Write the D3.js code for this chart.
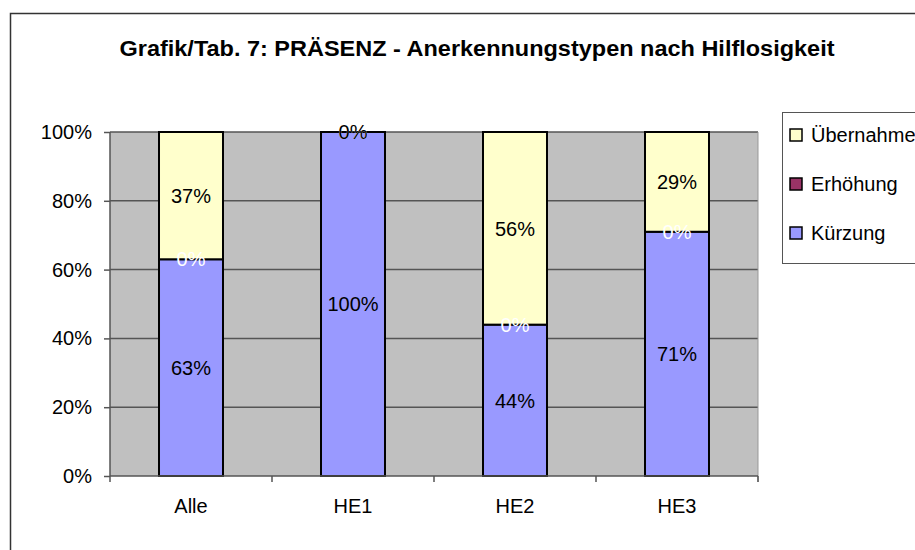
<!DOCTYPE html>
<html>
<head>
<meta charset="utf-8">
<script src="https://cdn.jsdelivr.net/npm/d3@7"></script>
<style>
  body { margin: 0; background: #fff; }
  svg { font-family: "Liberation Sans", Arial, sans-serif; }
</style>
</head>
<body>
<div id="chart"></div>
<script>
// Donnees du graphique
var categories = ["Alle", "HE1", "HE2", "HE3"];
var series = ["Kürzung", "Erhöhung", "Übernahme"];
var kuerzung = [63, 100, 44, 71];
var erhoehung = [0, 0, 0, 0];
var uebernahme = [37, 0, 56, 29];
var yTicks = [0, 20, 40, 60, 80, 100];
var legendOrder = ["Übernahme", "Erhöhung", "Kürzung"];

var colors = {"Kürzung": "#9999ff", "Erhöhung": "#993366", "Übernahme": "#ffffcc"};
var labelColors = {"Kürzung": "#000", "Erhöhung": "#fff", "Übernahme": "#000"};

var W = 915, H = 550;
var plot = {left: 110, right: 758, top: 132, bottom: 476};
var fs = "20px";

var svg = d3.select("#chart").append("svg")
    .attr("width", W)
    .attr("height", H);

// cadre exterieur (coupe a droite et en bas)
svg.append("rect")
    .attr("x", 10.5).attr("y", 13.5)
    .attr("width", W + 20).attr("height", H + 20)
    .attr("fill", "#fff")
    .attr("stroke", "#333")
    .attr("stroke-width", 1.5);

// titre
svg.append("text")
    .attr("x", 477).attr("y", 56)
    .attr("text-anchor", "middle")
    .style("font-size", "22px")
    .style("font-weight", "bold")
    .attr("textLength", 715)
    .attr("lengthAdjust", "spacingAndGlyphs")
    .text("Grafik/Tab. 7: PRÄSENZ - Anerkennungstypen nach Hilflosigkeit");

var x = d3.scaleBand().domain(categories)
    .range([plot.left, plot.right])
    .paddingInner(0.605).paddingOuter(0.3025);

var y = d3.scaleLinear().domain([0, 100]).range([plot.bottom, plot.top]);

// fond gris
svg.append("rect")
    .attr("x", plot.left).attr("y", plot.top)
    .attr("width", plot.right - plot.left)
    .attr("height", plot.bottom - plot.top)
    .attr("fill", "#c0c0c0");

// lignes de grille
svg.append("g").selectAll("line")
    .data(yTicks.slice(1))
    .enter().append("line")
    .attr("x1", plot.left).attr("x2", plot.right)
    .attr("y1", function (d) { return y(d); })
    .attr("y2", function (d) { return y(d); })
    .attr("stroke", "#555")
    .attr("stroke-width", 1.5);

// bord droit du fond
svg.append("line")
    .attr("x1", plot.right).attr("x2", plot.right)
    .attr("y1", plot.top).attr("y2", plot.bottom + 6)
    .attr("stroke", "#999").attr("stroke-width", 1);

// empilement
var table = categories.map(function (c, i) {
    return {cat: c, "Kürzung": kuerzung[i], "Erhöhung": erhoehung[i], "Übernahme": uebernahme[i]};
});
var stacked = d3.stack().keys(series)(table);
var segments = [];
stacked.forEach(function (layer) {
    layer.forEach(function (p) { segments.push({key: layer.key, p: p}); });
});

// barres
svg.append("g").selectAll("rect")
    .data(segments.filter(function (d) { return d.p[1] - d.p[0] > 0; }))
    .enter().append("rect")
    .attr("x", function (d) { return x(d.p.data.cat); })
    .attr("y", function (d) { return y(d.p[1]); })
    .attr("width", x.bandwidth())
    .attr("height", function (d) { return y(d.p[0]) - y(d.p[1]); })
    .attr("fill", function (d) { return colors[d.key]; })
    .attr("stroke", "#000")
    .attr("stroke-width", 2);

// etiquettes (au-dessus de toutes les barres)
svg.append("g").selectAll("text")
    .data(segments)
    .enter().append("text")
    .attr("x", function (d) { return x(d.p.data.cat) + x.bandwidth() / 2; })
    .attr("y", function (d) { return y((d.p[0] + d.p[1]) / 2); })
    .attr("dy", "0.36em")
    .attr("text-anchor", "middle")
    .style("font-size", fs)
    .attr("fill", function (d) { return labelColors[d.key]; })
    .text(function (d) { return Math.round(d.p[1] - d.p[0]) + "%"; });

// axe Y
var yAxis = svg.append("g")
    .attr("transform", "translate(" + plot.left + ",0)")
    .call(d3.axisLeft(y).tickValues(yTicks).tickSize(6).tickPadding(12)
        .tickFormat(function (d) { return d + "%"; }));
yAxis.selectAll("text").style("font-size", fs).attr("fill", "#000")
    .style("font-family", "Liberation Sans, Arial, sans-serif");
yAxis.selectAll("line").attr("stroke", "#555").attr("stroke-width", 1.5);
yAxis.select(".domain").attr("stroke", "#555").attr("stroke-width", 1.5)
    .attr("d", "M0," + plot.top + "V" + plot.bottom);

// axe X
var xAxis = svg.append("g")
    .attr("transform", "translate(0," + plot.bottom + ")")
    .call(d3.axisBottom(x).tickSize(0).tickPadding(23));
xAxis.selectAll("text").style("font-size", fs).attr("fill", "#000")
    .style("font-family", "Liberation Sans, Arial, sans-serif");
xAxis.select(".domain").attr("stroke", "#555").attr("stroke-width", 1.5)
    .attr("d", "M" + plot.left + ",0H" + plot.right);

// graduations entre categories
var bounds = categories.map(function (c) { return x(c) - x.step() * x.paddingInner() / 2; })
    .concat([plot.right]);
xAxis.selectAll(".sep").data(bounds).enter().append("line")
    .attr("class", "sep")
    .attr("x1", function (d) { return d; }).attr("x2", function (d) { return d; })
    .attr("y1", 0).attr("y2", 6)
    .attr("stroke", "#555").attr("stroke-width", 1.5);

// legende
var legend = svg.append("g");
legend.append("rect")
    .attr("x", 782.5).attr("y", 112.5)
    .attr("width", 200).attr("height", 151)
    .attr("fill", "#fff")
    .attr("stroke", "#555").attr("stroke-width", 1);

var items = legend.selectAll("g.item")
    .data(legendOrder)
    .enter().append("g")
    .attr("class", "item")
    .attr("transform", function (d, i) { return "translate(790," + (135 + i * 49) + ")"; });
items.append("rect")
    .attr("x", 0).attr("y", -6)
    .attr("width", 12).attr("height", 12)
    .attr("fill", function (d) { return colors[d]; })
    .attr("stroke", "#000").attr("stroke-width", 1.5);
items.append("text")
    .attr("x", 21).attr("dy", "0.36em")
    .style("font-size", fs)
    .text(function (d) { return d; });
</script>
</body>
</html>
